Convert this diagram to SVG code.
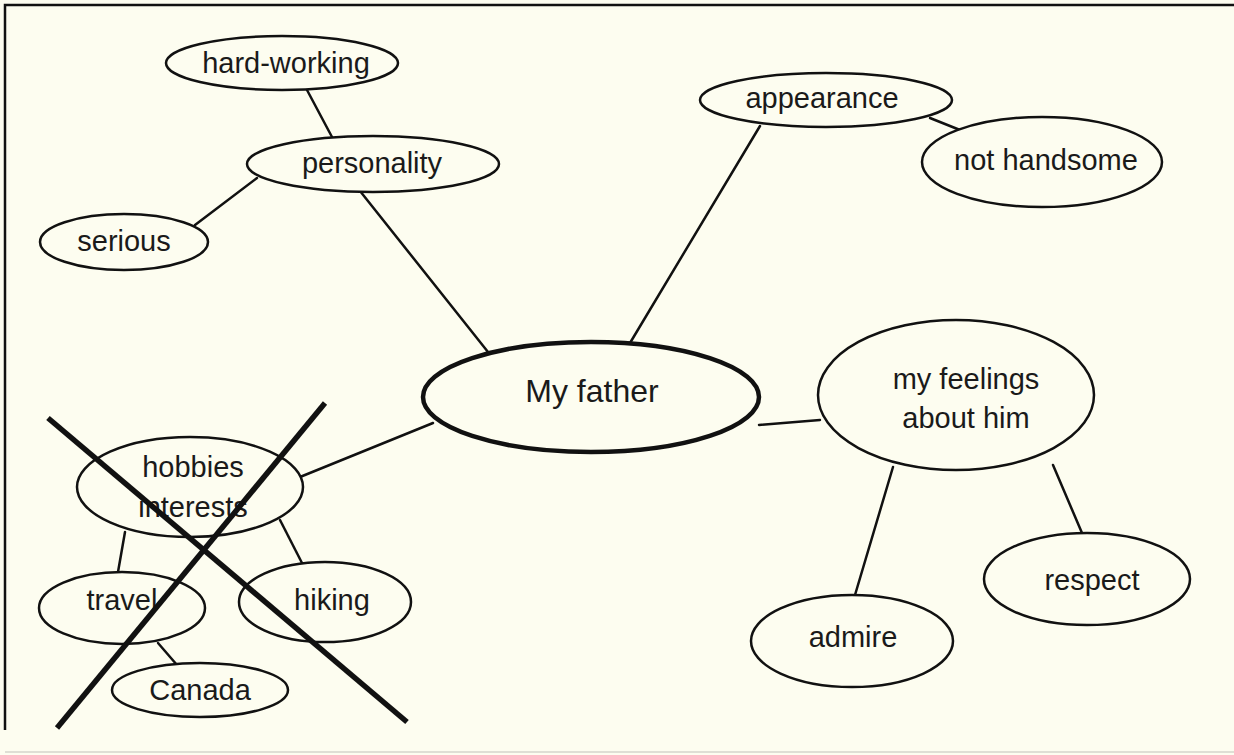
<svg xmlns="http://www.w3.org/2000/svg" width="1234" height="755" viewBox="0 0 1234 755">
<style>
.bg{fill:#fdfdf0}
.n ellipse{fill:#fdfdf0;stroke:#111;stroke-width:2.5}
.n text{font-family:"Liberation Sans",Arial,sans-serif;font-size:29px;fill:#1a1a1a;text-anchor:middle}
#connectors line{stroke:#111;stroke-width:2.5;stroke-linecap:round}
.x line{stroke:#111;stroke-width:5.5;stroke-linecap:butt}
.frame{stroke:#111;stroke-width:2.5;fill:none}
</style>
<rect class="bg" x="0" y="0" width="1234" height="755"/>
<path class="frame" d="M5,730 L5,5 L1234,5"/>
<line x1="5" y1="752" x2="1234" y2="752" stroke="#d4d4cc" stroke-width="1.5"/>
<g id="connectors">
<line x1="307" y1="90" x2="332" y2="137"/>
<line x1="195" y1="225" x2="257" y2="178"/>
<line x1="360" y1="191" x2="488" y2="352"/>
<line x1="760" y1="126" x2="630" y2="343"/>
<line x1="930" y1="118" x2="985" y2="140"/>
<line x1="759" y1="425" x2="820" y2="420"/>
<line x1="893" y1="467" x2="855" y2="595"/>
<line x1="1053" y1="465" x2="1082" y2="533"/>
<line x1="433" y1="423" x2="300" y2="477"/>
<line x1="125" y1="532" x2="118" y2="572"/>
<line x1="280" y1="520" x2="302" y2="563"/>
<line x1="158" y1="643" x2="177" y2="665"/>
</g>
<g id="n-hardworking" class="n"><ellipse cx="282" cy="63" rx="116" ry="27"/><text x="286" y="73">hard-working</text></g>
<g id="n-personality" class="n"><ellipse cx="373" cy="164" rx="126" ry="28"/><text x="372" y="173">personality</text></g>
<g id="n-serious" class="n"><ellipse cx="124" cy="242" rx="84" ry="28"/><text x="124" y="251">serious</text></g>
<g id="n-appearance" class="n"><ellipse cx="826" cy="100" rx="126" ry="27"/><text x="822" y="108">appearance</text></g>
<g id="n-nothandsome" class="n"><ellipse cx="1042" cy="162" rx="120" ry="45"/><text x="1046" y="170">not handsome</text></g>
<g id="n-myfather" class="n"><ellipse cx="591" cy="397" rx="168" ry="55" style="stroke-width:4.5"/><text x="592" y="402" style="font-size:32px">My father</text></g>
<g id="n-feelings" class="n"><ellipse cx="956" cy="395" rx="138" ry="75"/><text x="966" y="389">my feelings</text><text x="966" y="428">about him</text></g>
<g id="n-hobbies" class="n"><ellipse cx="190" cy="487" rx="113" ry="50"/><text x="193" y="477">hobbies</text><text x="193" y="517">interests</text></g>
<g id="n-travel" class="n"><ellipse cx="122" cy="608" rx="83" ry="36"/><text x="122" y="610">travel</text></g>
<g id="n-hiking" class="n"><ellipse cx="325" cy="602" rx="86" ry="40"/><text x="332" y="610">hiking</text></g>
<g id="n-canada" class="n"><ellipse cx="200" cy="690" rx="88" ry="27"/><text x="200" y="700">Canada</text></g>
<g id="n-respect" class="n"><ellipse cx="1087" cy="579" rx="103" ry="46"/><text x="1092" y="590">respect</text></g>
<g id="n-admire" class="n"><ellipse cx="852" cy="641" rx="101" ry="46"/><text x="853" y="647">admire</text></g>
<g class="x">
<line x1="48" y1="418" x2="407" y2="722"/>
<line x1="325" y1="403" x2="57" y2="728"/>
</g>
</svg>
